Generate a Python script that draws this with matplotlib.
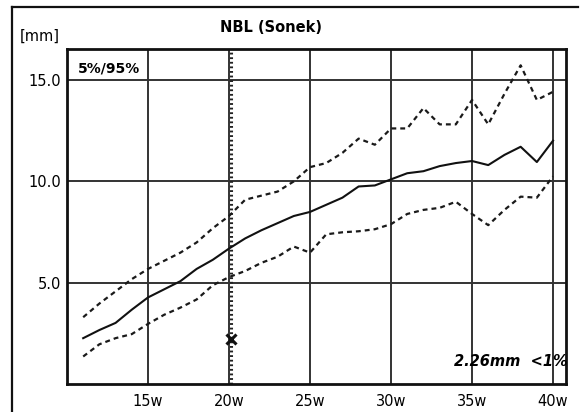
import matplotlib
matplotlib.use("Agg")
import matplotlib.pyplot as plt
from matplotlib.lines import Line2D

weeks = list(range(11, 41))
median = [2.3, 2.7, 3.05, 3.7, 4.3, 4.7, 5.1, 5.7, 6.15, 6.7,
          7.2, 7.6, 7.95, 8.3, 8.5, 8.85, 9.2, 9.75, 9.8, 10.1,
          10.4, 10.5, 10.75, 10.9, 11.0, 10.8, 11.3, 11.7, 10.95, 12.0]
upper95 = [3.33, 4.0, 4.6, 5.2, 5.7, 6.1, 6.5, 7.0, 7.7, 8.3,
           9.1, 9.3, 9.5, 10.0, 10.7, 10.9, 11.4, 12.1, 11.8, 12.6,
           12.6, 13.6, 12.8, 12.8, 14.0, 12.8, 14.3, 15.7, 14.0, 14.4]
lower5 = [1.4, 2.0, 2.3, 2.5, 3.0, 3.45, 3.8, 4.2, 4.9, 5.3,
          5.6, 6.0, 6.3, 6.8, 6.5, 7.4, 7.5, 7.55, 7.65, 7.9,
          8.4, 8.6, 8.7, 9.0, 8.4, 7.85, 8.6, 9.25, 9.2, 10.25]
xticks = [15, 20, 25, 30, 35, 40]
xtick_labels = ["15w", "20w", "25w", "30w", "35w", "40w"]
yticks = [5, 10, 15]
ytick_labels = ["5.0", "10.0", "15.0"]
measure_week = 20.15
measure_value = 2.26

fig = plt.figure(figsize=(5.84, 4.12), dpi=100)
ax = fig.add_axes([0.1147, 0.068, 0.8545, 0.813])
ax.set_xlim(10, 40.8)
ax.set_ylim(0.05, 16.5)

ax.set_xticks(xticks)
ax.set_xticklabels(xtick_labels)
ax.set_yticks(yticks)
ax.set_yticklabels(ytick_labels)
ax.tick_params(axis="x", length=0, labelsize=10.5, pad=7, colors="#000000")
ax.tick_params(axis="y", length=0, labelsize=10.5, pad=4, colors="#000000")
ax.grid(True, color="#333333", lw=1.4)
ax.set_axisbelow(True)
for s in ax.spines.values():
    s.set_linewidth(2.0)
    s.set_color("#111111")

ax.axvline(measure_week, color="#222222", lw=2.2, ls=(0, (0.6, 0.9)))

ax.plot(weeks, upper95, color="#1a1a1a", lw=1.6, ls=(0, (2.2, 1.8)))
ax.plot(weeks, lower5, color="#1a1a1a", lw=1.6, ls=(0, (2.2, 1.8)))
ax.plot(weeks, median, color="#111111", lw=1.5)
ax.plot([measure_week], [measure_value], marker="x", color="#111111",
        ms=7, mew=2.2, ls="none")

ax.text(10.7, 15.55, "5%/95%", fontsize=10, fontweight="bold", va="center", ha="left")
ax.text(40.9, 1.15, "2.26mm  <1%", fontsize=10.5, fontweight="bold",
        fontstyle="italic", va="center", ha="right")

fig.text(271 / 584, 1 - 27 / 412, "NBL (Sonek)", fontsize=10.5, fontweight="bold",
         ha="center", va="center")
fig.text(40 / 584, 1 - 36 / 412, "[mm]", fontsize=10.5, ha="center", va="center")

fig.add_artist(Line2D([12 / 584, 12 / 584], [0, 1 - 7 / 412], transform=fig.transFigure,
                      color="#111111", lw=1.6))
fig.add_artist(Line2D([12 / 584, 578 / 584], [1 - 7 / 412, 1 - 7 / 412],
                      transform=fig.transFigure, color="#111111", lw=1.6))

fig.savefig("out.png", dpi=100)
